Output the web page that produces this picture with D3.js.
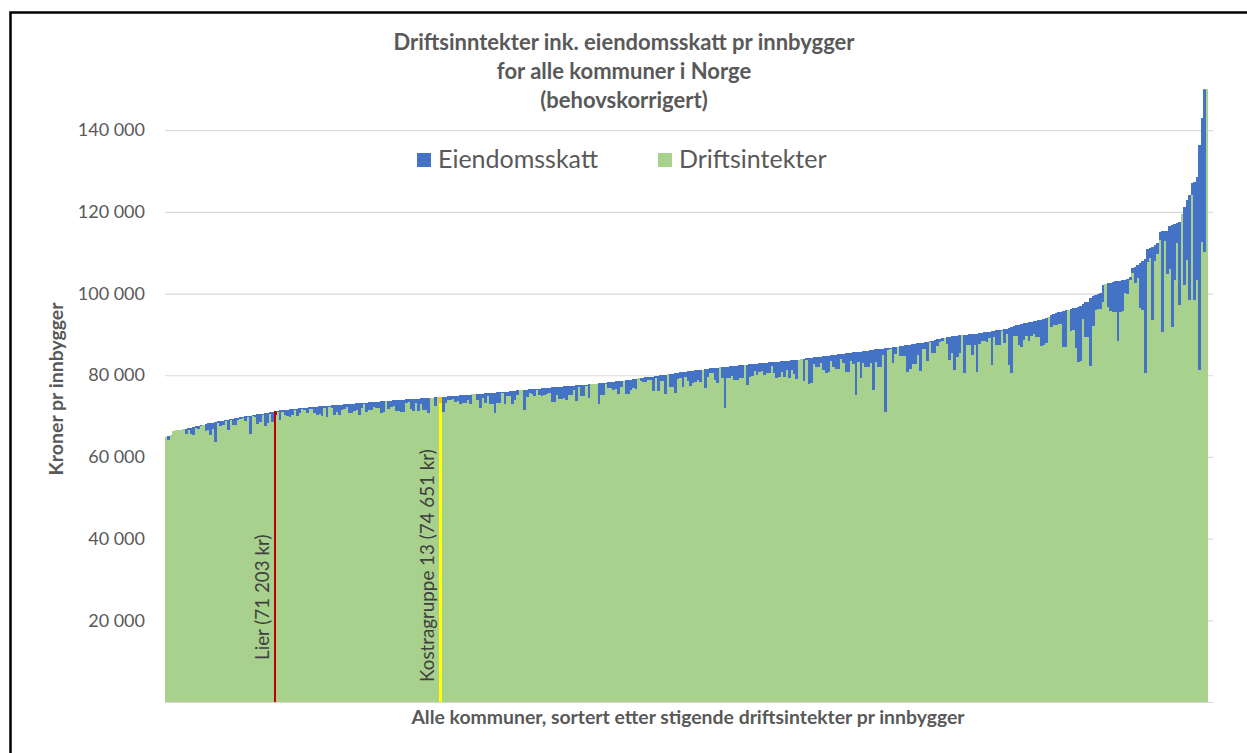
<!DOCTYPE html>
<html>
<head>
<meta charset="utf-8">
<script src="https://cdn.jsdelivr.net/npm/d3@7"></script>
<style>
  body { margin: 0; background: #fff; }
  svg { display: block; font-family: Lato, "Open Sans", sans-serif; }
  .tick text { fill: #595959; }
</style>
</head>
<body>
<div id="chart"></div>
<script>
// Total income incl. property tax per inhabitant, sorted ascending
const totalPrInnbygger = [
  64800, 65100, 65400, 66300, 66500, 66600, 66700, 66800, 66900, 67000,
  67100, 67300, 67500, 67600, 67800, 67900, 68100, 68200, 68300, 68400,
  68500, 68700, 68800, 68900, 69000, 69100, 69300, 69400, 69500, 69600,
  69700, 69800, 69900, 70000, 70100, 70200, 70300, 70400, 70500, 70600,
  70700, 70800, 70900, 71000, 71203, 71300, 71400, 71400, 71500, 71600,
  71700, 71750, 71800, 71850, 71900, 71950, 72000, 72050, 72100, 72200,
  72250, 72300, 72350, 72400, 72450, 72500, 72550, 72600, 72650, 72700,
  72750, 72800, 72850, 72900, 72950, 73000, 73050, 73100, 73150, 73200,
  73250, 73300, 73350, 73400, 73450, 73500, 73550, 73600, 73650, 73700,
  73750, 73800, 73850, 73900, 73950, 74000, 74050, 74100, 74150, 74200,
  74250, 74280, 74300, 74330, 74360, 74400, 74430, 74460, 74500, 74550,
  74600, 74651, 74700, 74750, 74800, 74850, 74900, 74950, 75000, 75050,
  75100, 75150, 75200, 75250, 75300, 75350, 75400, 75450, 75500, 75550,
  75600, 75650, 75700, 75750, 75800, 75850, 75900, 75950, 76000, 76050,
  76150, 76200, 76300, 76350, 76400, 76450, 76500, 76550, 76600, 76650,
  76700, 76750, 76800, 76850, 76900, 76950, 77000, 77050, 77100, 77150,
  77200, 77250, 77300, 77350, 77400, 77450, 77500, 77550, 77600, 77650,
  77700, 77800, 77850, 77900, 77950, 78000, 78100, 78150, 78200, 78300,
  78350, 78400, 78500, 78550, 78650, 78700, 78800, 78850, 78950, 79050,
  79150, 79250, 79300, 79400, 79450, 79500, 79550, 79650, 79750, 79850,
  79950, 80000, 80100, 80200, 80300, 80400, 80500, 80600, 80700,
  80800, 80850, 80950, 81000, 81100, 81200, 81300, 81350, 81400, 81450, 81550,
  81650, 81700, 81800, 81850, 81900, 82000, 82050, 82100, 82150, 82200,
  82300, 82350, 82400, 82500, 82550, 82600, 82650, 82700, 82800, 82850,
  82900, 83000, 83050, 83100, 83150, 83200, 83250, 83300, 83350, 83400,
  83450, 83500, 83550, 83650, 83700, 83750, 83850, 83900, 84000, 84100,
  84150, 84250, 84350, 84400, 84450, 84500, 84600, 84700, 84800, 84900,
  85000, 85050, 85100, 85200, 85300, 85350, 85400, 85450,
  85600, 85700, 85750, 85800, 85850, 85900, 86000, 86100, 86200, 86300, 86350, 86400,
  86500, 86550, 86600, 86700, 86800, 86900, 87000, 87100, 87200, 87300,
  87400, 87500, 87600, 87700, 87800, 87900, 88000, 88100, 88200, 88400,
  88500, 88650, 88800, 88950, 89100, 89200, 89300, 89400, 89500, 89600,
  89700, 89800, 89850, 89900, 89950, 90000, 90050, 90100, 90200, 90300,
  90400, 90500, 90550, 90650, 90800, 90900, 91000, 91050, 91100, 91200, 91300, 91500,
  91900, 92000, 92200, 92300, 92500, 92700, 92900, 93000, 93100, 93200,
  93300, 93400, 93600, 93800, 94000, 94300, 94700, 95000, 95200, 95400,
  95600, 95800, 95900, 96000, 96200, 96400, 96500, 96700, 96900, 97500,
  97900, 98000, 99000, 99300, 99600, 100000, 100200, 102000, 102300, 102500,
  102700, 102900, 103000, 103000, 103100, 103200, 103400, 103600, 104000, 106200,
  106600, 107000, 107400, 107900, 108500, 110800, 111200, 111500, 112000, 112400,
  115000, 115200, 115300, 115400, 116500, 116800, 117000, 117200, 117600, 119500,
  121300, 122900, 124100, 127000, 127400, 128600, 136400, 142900, 152000, 162000
];

// Eiendomsskatt per inhabitant (the blue top of each bar)
const eiendomsskatt = [
  0, 1000, 0, 0, 0, 0, 0, 0, 1200, 300,
  1600, 2000, 300, 800, 200, 0, 1700, 1500, 2900, 1600,
  4900, 300, 1200, 1200, 200, 2400, 300, 1600, 1600, 500,
  400, 300, 1200, 200, 4600, 300, 500, 2400, 2000, 300,
  3200, 2600, 400, 2400, 1000, 300, 2400, 300, 1200, 1600,
  2000, 1600, 300, 1800, 1200, 300, 500, 1400, 300, 500,
  1500, 2000, 1800, 2300, 400, 2800, 300, 600, 2500, 1800,
  2400, 1400, 1000, 600, 2300, 2200, 1800, 1600, 2800, 1200,
  200, 2200, 1900, 1800, 1200, 1500, 1600, 2900, 2600, 0,
  2100, 1500, 1500, 2700, 2700, 3100, 3100, 800, 700, 2400,
  3000, 1000, 3000, 1400, 2800, 2800, 3700, 0, 0, 2200,
  0, 1500, 3600, 1600, 800, 800, 800, 1400, 1400, 2000,
  2000, 2000, 1300, 2200, 0, 0, 1400, 3500, 1100, 2400,
  800, 2800, 2800, 5000, 2600, 2600, 300, 3100, 1200, 1200,
  3100, 2300, 1200, 0, 0, 4900, 1800, 1000, 1200, 1800,
  300, 1500, 1800, 1800, 1400, 1400, 3500, 3500, 2000, 2900,
  2900, 2900, 3400, 2300, 2300, 1000, 3900, 400, 2800, 2800,
  400, 3300, 0, 0, 0, 5000, 2900, 2900, 300, 1500,
  1500, 1900, 1900, 3200, 1600, 0, 3400, 3400, 2600, 2200,
  2600, 0, 600, 1000, 1000, 700, 700, 3600, 400, 3700,
  1300, 1300, 4700, 0, 3300, 3300, 4900, 1500, 1500,
  3700, 1200, 2400, 3700, 2900, 2900, 2400, 3000, 0, 4500, 2100,
  1200, 1200, 2900, 3700, 0, 2700, 10000, 2900, 2900, 2400,
  3400, 3400, 3100, 3100, 0, 5000, 3000, 3000, 1800, 2800,
  2000, 2000, 2900, 2600, 2600, 1000, 2600, 3900, 3900, 2500,
  4000, 2300, 4300, 2400, 3300, 4600, 0, 0, 5500, 300,
  6200, 6200, 1600, 2400, 2400, 1600, 3300, 4100, 4100, 1400,
  3100, 3600, 3600, 1200, 2400, 4500, 4500, 2000,
  2900, 10600, 2500, 6500, 2900, 3900, 3900, 3000, 9800, 3000, 4400, 4400,
  1600, 15500, 400, 400, 3700, 1800, 0, 2500, 2500, 2500,
  6500, 6000, 4900, 4900, 2900, 6900, 1600, 1600, 4600, 200,
  3100, 3100, 1600, 800, 800, 0, 1600, 5700, 4100, 8400,
  5300, 4400, 0, 9400, 2600, 2600, 5000, 2600, 9400, 2600,
  2000, 2000, 2300, 1600, 8200, 1600, 3700, 3700, 300, 3300, 1200, 9000,
  11300, 2500, 2500, 4900, 5700, 4000, 3300, 4500, 3500, 3000,
  4000, 4000, 6500, 6500, 6200, 0, 2800, 2800, 2800, 2900,
  3000, 9000, 9000, 0, 5300, 5300, 9800, 13500, 13500, 3700,
  8600, 8600, 16700, 7300, 3700, 3700, 4100, 4100, 0, 5700,
  7000, 7500, 7500, 14700, 7700, 7500, 3300, 3700, 800, 1200,
  4100, 3300, 11000, 12000, 28000, 3000, 2500, 18000, 4100, 2800,
  2000, 24500, 2400, 10600, 10600, 25000, 13800, 4900, 20400, 0,
  19200, 14700, 25700, 2900, 29000, 25300, 55100, 30200, 41800, 0
];

const seriesNames = ["Eiendomsskatt", "Driftsintekter"];
const seriesColors = ["#4472c4", "#a9d18e"];
const yTicks = [20000, 40000, 60000, 80000, 100000, 120000, 140000];
const yMax = 150000;

// Highlighted municipalities: index in the sorted list, label and colours
const markIndex = [44, 111];
const markLabels = ["Lier (71 203 kr)", "Kostragruppe 13 (74 651 kr)"];
const markDriftColor = ["#c00000", "#ffff00"];
const markSkattColor = ["#c00000", "#ffc000"];

const titleLines = [
  "Driftsinntekter ink. eiendomsskatt pr innbygger",
  "for alle kommuner i Norge",
  "(behovskorrigert)"
];

const w = 1247, h = 753;
const plot = { left: 165, right: 1208, top: 89.3, bottom: 702 };

const nb = d3.formatLocale({ decimal: ",", thousands: "\u00a0", grouping: [3], currency: ["", " kr"] });
const fmt = nb.format(",");

// Table for the stack, built from the arrays
const table = totalPrInnbygger.map((t, i) => ({
  i: i,
  drift: t - eiendomsskatt[i],
  skatt: eiendomsskatt[i]
}));

const svg = d3.select("#chart")
  .append("svg")
  .attr("width", w)
  .attr("height", h);

// Outer frame (runs off the right and bottom edge like the screenshot)
svg.append("rect")
  .attr("x", 10.5).attr("y", 12.5)
  .attr("width", 1400).attr("height", 900)
  .attr("fill", "none")
  .attr("stroke", "#000")
  .attr("stroke-width", 2.5);

const x = d3.scaleBand()
  .domain(d3.range(table.length))
  .range([plot.left, plot.right])
  .padding(0);

const y = d3.scaleLinear()
  .domain([0, yMax])
  .range([plot.bottom, plot.top]);

// Gridlines
svg.append("g")
  .attr("class", "grid")
  .attr("transform", "translate(" + plot.left + ",0)")
  .call(d3.axisLeft(y).tickValues([0].concat(yTicks)).tickSize(-(1213 - plot.left)).tickFormat(""))
  .call(g => g.select(".domain").remove())
  .call(g => g.selectAll("line").attr("stroke", "#d9d9d9").attr("stroke-width", 1.2));

// Clip the bars at the top of the value axis
svg.append("clipPath")
  .attr("id", "plot-clip")
  .append("rect")
  .attr("x", plot.left).attr("y", plot.top)
  .attr("width", plot.right - plot.left).attr("height", plot.bottom - plot.top);

const stacked = d3.stack().keys(["drift", "skatt"])(table);

const bars = svg.append("g")
  .attr("clip-path", "url(#plot-clip)")
  .attr("shape-rendering", "crispEdges");

bars.selectAll("g.layer")
  .data(stacked)
  .join("g")
  .attr("class", "layer")
  .each(function(layer) {
    d3.select(this).selectAll("rect")
      .data(layer)
      .join("rect")
      .attr("x", d => x(d.data.i))
      .attr("width", x.bandwidth() + 0.3)
      .attr("y", d => y(d[1]))
      .attr("height", d => Math.max(0, y(d[0]) - y(d[1])))
      .attr("fill", d => {
        const m = markIndex.indexOf(d.data.i);
        if (layer.key === "drift") return m >= 0 ? markDriftColor[m] : seriesColors[1];
        return m >= 0 ? markSkattColor[m] : seriesColors[0];
      });
  });

// Y axis labels
svg.append("g")
  .attr("transform", "translate(" + plot.left + ",0)")
  .call(d3.axisLeft(y).tickValues(yTicks).tickSize(0).tickPadding(20).tickFormat(fmt))
  .call(g => g.select(".domain").remove())
  .call(g => g.selectAll("text").attr("font-size", 18).attr("font-family", "Lato, sans-serif"));

// Labels for the highlighted municipalities
const labelBottom = [660, 682];
markIndex.forEach((idx, k) => {
  const lx = x(idx) - 5;
  svg.append("text")
    .attr("transform", "translate(" + lx + "," + labelBottom[k] + ") rotate(-90)")
    .attr("font-size", 18.8)
    .attr("fill", "#404040")
    .text(markLabels[k]);
});

// Title
svg.append("text")
  .attr("x", 624)
  .attr("text-anchor", "middle")
  .attr("font-weight", "bold")
  .attr("font-size", 22)
  .attr("fill", "#595959")
  .selectAll("tspan")
  .data(titleLines)
  .join("tspan")
  .attr("x", 624)
  .attr("y", (d, i) => 50 + i * 29)
  .text(d => d);

// Legend
const legendX = [417, 658];
const legend = svg.append("g").attr("id", "legend");
seriesNames.forEach((name, k) => {
  legend.append("rect")
    .attr("x", legendX[k]).attr("y", 153)
    .attr("width", 14).attr("height", 14)
    .attr("fill", seriesColors[k]);
  legend.append("text")
    .attr("x", legendX[k] + 21).attr("y", 168)
    .attr("font-size", 25)
    .attr("fill", "#595959")
    .text(name);
});

// Axis titles
svg.append("text")
  .attr("transform", "translate(63,389) rotate(-90)")
  .attr("text-anchor", "middle")
  .attr("font-weight", "bold")
  .attr("font-size", 19.5)
  .attr("fill", "#595959")
  .text("Kroner pr innbygger");

svg.append("text")
  .attr("x", 688).attr("y", 724)
  .attr("text-anchor", "middle")
  .attr("font-weight", "bold")
  .attr("font-size", 19.4)
  .attr("fill", "#595959")
  .text("Alle kommuner, sortert etter stigende driftsintekter pr innbygger");
</script>
</body>
</html>
